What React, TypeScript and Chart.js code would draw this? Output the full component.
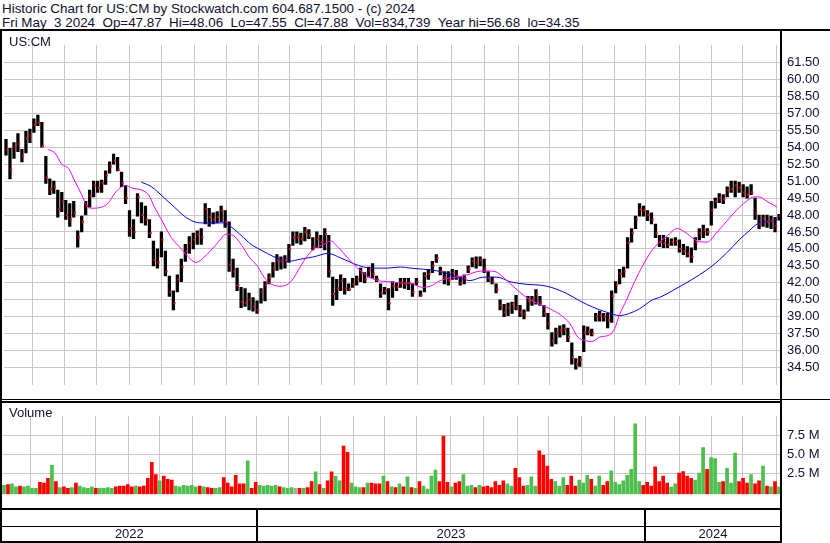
import React, { useEffect, useRef, useState } from "react";
import { Chart, registerables } from "chart.js";
Chart.register(...registerables);

// ---- header text ----
const TITLE = "Historic Chart for US:CM by Stockwatch.com 604.687.1500 - (c) 2024";
const QUOTE = "Fri May  3 2024  Op=47.87  Hi=48.06  Lo=47.55  Cl=47.88  Vol=834,739  Year hi=56.68  lo=34.35";
const SYMBOL = "US:CM";

// ---- price bars (one bar ≈ two trading days), May 2022 .. May 2024 ----
const HI = [
  54.7, 53.9, 54.4, 55.2, 53.8, 55.4, 55.6, 56.5, 56.85, 56.2,
  53.2, 51.2, 51.0, 50.2, 50.0, 49.3, 49.0, 49.2, 46.6, 47.9,
  49.2, 50.2, 51.0, 51.0, 51.1, 51.9, 52.7, 53.4, 53.1, 51.8,
  50.6, 48.4, 47.6, 49.9, 49.1, 48.8, 47.6, 45.7, 45.0, 46.5,
  44.8, 42.6, 41.3, 42.7, 44.1, 45.4, 46.1, 46.4, 46.6, 46.8,
  49.0, 48.6, 48.2, 48.3, 48.8, 48.4, 47.4, 44.1, 43.3, 41.6,
  41.5, 41.1, 40.7, 40.4, 41.5, 42.1, 42.8, 43.8, 44.5, 44.3,
  44.4, 45.4, 46.5, 46.5, 46.4, 46.9, 46.7, 46.0, 46.5, 46.2,
  46.8, 46.2, 42.5, 42.3, 42.7, 42.4, 41.9, 42.4, 42.6, 43.3,
  42.9, 43.4, 43.7, 42.6, 41.9, 41.6, 41.5, 42.1, 42.0, 42.4,
  42.4, 42.4, 41.9, 42.4, 41.3, 42.9, 43.2, 43.9, 44.5, 43.4,
  43.0, 43.0, 43.2, 43.1, 42.5, 42.7, 43.5, 44.2, 44.3, 44.3,
  44.1, 43.0, 42.5, 41.9, 40.5, 40.1, 40.2, 40.3, 40.9, 40.0,
  39.6, 40.8, 40.8, 41.4, 40.8, 40.0, 39.3, 37.6, 38.0, 38.2,
  38.3, 38.0, 36.7, 35.3, 35.5, 38.2, 38.1, 37.9, 39.3, 39.5,
  39.3, 39.3, 41.3, 42.1, 43.2, 43.4, 46.0, 46.8, 47.9, 49.0,
  48.8, 48.4, 48.2, 47.2, 46.2, 46.2, 46.0, 45.9, 46.0, 45.8,
  45.4, 45.2, 45.1, 46.0, 46.8, 47.1, 46.8, 49.2, 49.5, 49.9,
  49.8, 50.5, 51.0, 51.0, 50.9, 50.7, 50.5, 50.7, 49.5, 48.0,
  48.0, 48.0, 47.9, 47.8, 48.06,
];
const LO = [
  53.3, 51.2, 53.0, 53.6, 52.7, 53.5, 54.4, 55.3, 55.9, 54.0,
  50.8, 49.8, 49.9, 47.8, 48.3, 47.6, 47.0, 47.8, 45.15, 46.5,
  48.0, 48.7, 49.6, 50.0, 50.0, 50.7, 51.7, 52.5, 51.9, 50.5,
  49.0, 46.1, 45.9, 47.9, 47.3, 47.1, 46.0, 43.5, 43.3, 44.3,
  42.6, 40.8, 39.6, 41.2, 42.1, 43.9, 44.6, 45.0, 45.4, 45.4,
  47.2, 47.0, 47.2, 47.3, 47.4, 46.9, 43.0, 42.5, 41.3, 39.8,
  39.9, 39.6, 39.5, 39.3, 40.2, 40.4, 41.9, 42.5, 43.1, 43.2,
  43.3, 43.8, 45.3, 45.5, 45.4, 45.7, 45.9, 44.9, 45.1, 45.1,
  44.9, 42.5, 40.0, 40.5, 41.3, 41.0, 41.3, 41.6, 41.8, 42.1,
  42.0, 42.5, 42.4, 42.1, 40.7, 41.0, 39.6, 40.7, 41.3, 41.6,
  41.5, 41.4, 40.8, 41.8, 40.8, 41.2, 42.3, 42.9, 43.8, 42.7,
  41.9, 41.8, 42.3, 42.3, 41.8, 41.9, 42.9, 43.4, 43.3, 43.5,
  42.9, 42.1, 41.9, 41.1, 39.6, 39.0, 39.1, 39.3, 39.6, 39.0,
  38.8, 39.5, 40.0, 40.1, 40.0, 39.0, 37.9, 36.4, 36.6, 37.2,
  37.4, 36.8, 34.8, 34.35, 34.6, 35.9, 37.4, 37.3, 38.6, 38.6,
  38.6, 38.0, 38.5, 41.1, 41.9, 42.5, 43.3, 45.6, 46.8, 47.9,
  47.9, 47.5, 47.2, 46.0, 45.2, 45.1, 45.1, 45.3, 45.3, 44.7,
  44.5, 44.3, 43.8, 44.9, 45.8, 46.0, 46.2, 47.1, 48.6, 49.1,
  49.0, 49.6, 50.0, 49.6, 50.0, 49.6, 49.5, 49.8, 47.6, 46.8,
  47.0, 46.9, 46.8, 46.5, 47.55,
];
const CL = [
  53.8, 52.0, 54.0, 54.3, 53.2, 54.8, 55.0, 56.0, 56.2, 54.1,
  51.3, 50.3, 50.5, 48.5, 49.2, 48.0, 47.6, 48.2, 46.0, 47.4,
  48.8, 49.7, 50.6, 50.4, 50.8, 51.5, 52.3, 52.8, 52.0, 50.8,
  49.5, 46.8, 46.5, 49.6, 48.0, 47.6, 46.4, 44.0, 43.8, 45.8,
  43.0, 41.2, 40.2, 42.3, 43.4, 44.8, 45.5, 45.8, 46.3, 46.0,
  48.5, 47.8, 47.6, 47.8, 48.4, 47.4, 43.6, 43.0, 41.8, 40.3,
  40.2, 40.5, 39.9, 39.6, 41.2, 41.8, 42.4, 43.3, 44.0, 43.9,
  44.0, 45.0, 46.0, 46.0, 45.9, 46.5, 46.2, 45.2, 45.9, 45.6,
  46.3, 43.0, 41.0, 41.5, 42.2, 41.5, 41.4, 41.9, 42.3, 42.9,
  42.3, 43.1, 42.8, 42.3, 41.1, 41.3, 40.2, 41.7, 41.6, 42.0,
  41.9, 42.0, 41.2, 42.1, 40.9, 42.6, 42.8, 43.5, 44.2, 43.0,
  42.5, 42.2, 42.9, 42.6, 42.0, 42.4, 43.2, 43.9, 43.8, 44.0,
  43.2, 42.4, 42.1, 41.4, 40.0, 39.4, 39.8, 40.1, 39.8, 39.4,
  39.2, 40.4, 40.5, 41.0, 40.3, 39.3, 38.4, 36.9, 37.6, 37.8,
  37.9, 37.2, 35.4, 34.8, 35.2, 37.6, 37.7, 37.5, 39.0, 39.1,
  39.0, 38.7, 40.8, 41.8, 42.8, 43.0, 45.5, 46.4, 47.6, 48.5,
  48.4, 48.0, 47.6, 46.4, 45.6, 45.5, 45.4, 45.6, 45.7, 45.0,
  44.8, 44.6, 44.3, 45.6, 46.4, 46.7, 46.5, 48.4, 49.2, 49.5,
  49.4, 50.2, 50.3, 50.6, 50.4, 50.0, 49.8, 50.0, 48.2, 47.2,
  47.7, 47.4, 47.5, 47.0, 47.88,
];
// volume in millions of shares
const VOL = [
  1.0, 1.1, 1.2, 0.8, 0.9, 0.8, 0.9, 0.6, 0.6, 1.4,
  1.3, 1.9, 3.6, 1.5, 0.7, 0.8, 0.6, 0.7, 1.3, 0.9,
  0.7, 0.6, 0.8, 0.6, 0.6, 0.6, 0.7, 0.6, 0.8, 0.9,
  0.9, 1.1, 0.8, 0.9, 0.8, 0.9, 1.9, 4.0, 2.4, 1.6,
  2.2, 1.8, 1.7, 0.9, 0.8, 1.0, 0.9, 1.0, 0.8, 0.9,
  0.8, 0.7, 0.6, 0.6, 0.7, 2.0, 1.3, 0.8, 2.3, 1.2,
  1.2, 4.2, 0.6, 1.4, 1.0, 0.9, 1.0, 0.9, 1.0, 0.8,
  0.7, 0.6, 0.7, 0.6, 0.6, 0.6, 0.7, 1.5, 2.75, 1.1,
  0.6, 1.6, 2.75, 2.2, 1.6, 6.1, 5.3, 1.3, 0.8, 0.7,
  0.7, 1.3, 1.3, 1.2, 1.2, 2.2, 1.5, 0.8, 0.7, 1.2,
  0.8, 2.1, 0.7, 0.6, 1.5, 0.9, 0.5, 2.2, 3.0, 1.5,
  7.4, 1.4, 0.8, 1.3, 1.5, 2.4, 0.9, 1.0, 0.7, 1.0,
  0.8, 0.9, 0.7, 1.5, 1.0, 1.6, 1.2, 0.9, 3.2, 2.0,
  0.9, 1.0, 2.1, 0.9, 5.5, 4.9, 3.5, 1.8, 1.5, 0.9,
  2.0, 1.0, 2.2, 0.9, 1.7, 1.3, 2.3, 1.8, 0.9, 2.2,
  1.0, 1.5, 2.9, 1.4, 1.1, 1.6, 2.3, 3.1, 9.0, 1.5,
  1.0, 1.4, 0.9, 3.4, 1.5, 2.2, 1.3, 0.8, 1.2, 2.6,
  2.8, 2.2, 1.9, 1.7, 2.6, 5.9, 3.1, 4.6, 4.5, 1.4,
  1.5, 3.2, 1.3, 5.2, 1.5, 1.9, 1.3, 2.4, 1.2, 1.6,
  3.5, 0.9, 0.8, 1.5, 0.8,
];

// ---- moving averages (bar index, price) ----
const MA_FAST_X = [
  10.5, 12.25, 14, 15.75, 17.25, 19, 20.25, 21.5, 24, 25.75, 27.25, 29, 30.25, 31.5, 34, 35.75,
  37.25, 39, 41.5, 44, 46, 47.75, 49.5, 51.5, 53.5, 55.25, 57, 59, 61, 63.25, 64.75, 66.5, 69,
  71.5, 74, 75.25, 77.25, 79.75, 81.5, 83.5, 85.75, 88.25, 90.75, 93.25, 95.75, 99, 102.25,
  104.5, 106.5, 109, 111, 113.25, 115.75, 118.25, 120.25, 122.75, 124.75, 127.25, 129.5, 131.5,
  134, 136.5, 139, 141.5, 143.5, 145.25, 147, 149, 151.5, 152.75, 154, 155.75, 157.75, 159.75,
  162, 164, 165.75, 168.5, 170.75, 173.5, 176, 178.25, 180.75, 183.25, 185.75, 187.75, 189, 191, 193.5,
];
const MA_FAST = [
  53.8, 53.5, 52.5, 52.1, 51.0, 49.8, 48.8, 48.6, 48.7, 49.1, 49.9, 50.5, 50.6, 50.4, 50.2, 49.8,
  48.7, 47.6, 46.0, 45.0, 44.2, 43.8, 44.2, 44.9, 45.7, 46.3, 46.2, 45.4, 44.3, 43.4, 42.5, 41.9, 41.7,
  42.1, 43.5, 44.2, 45.0, 45.4, 45.7, 45.1, 44.2, 43.3, 42.6, 42.2, 42.1, 42.0, 41.9,
  41.6, 41.7, 42.2, 42.4, 42.5, 42.7, 43.0, 43.05, 43.0, 42.5, 41.7, 41.0, 40.5,
  40.1, 39.7, 39.2, 38.4, 37.2, 36.9, 36.8, 37.2, 37.4, 37.95, 39.2, 40.5, 42.1, 43.5,
  44.8, 45.6, 46.1, 46.8, 46.4, 45.7, 45.6, 46.4, 47.4, 48.4, 49.2, 49.6, 49.6, 49.2, 48.7,
];
const MA_SLOW_X = [
  34, 36.5, 39.75, 42.25, 44.75, 47.25, 49.75, 52.25, 54.75, 56.5, 59, 61.5, 64, 67.25, 70.75,
  74, 77.25, 80.75, 84, 87.25, 89.75, 92.25, 95.75, 99, 101.5, 104.75, 109, 113.25, 116.5,
  119.75, 123.25, 126.5, 129.75, 135.75, 140.75, 144, 147.25, 150.75, 154, 156.5, 159, 162.25,
  164, 167.25, 170.75, 174, 177.25, 180.75, 184, 186.5, 188.5, 190.75, 193.5,
];
const MA_SLOW = [
  50.9, 50.5, 49.5, 48.7, 47.9, 47.4, 47.3, 47.3, 47.3, 46.95, 46.2, 45.4, 44.9, 44.3, 43.9,
  44.1, 44.3, 44.6, 44.2, 43.7, 43.4, 43.3, 43.3, 43.4, 43.3, 43.2, 43.0, 42.5, 42.2,
  42.5, 42.5, 42.1, 41.9, 41.7, 41.05, 40.4, 39.85, 39.4, 39.1, 39.3, 39.7, 40.5,
  40.7, 41.3, 42.0, 42.7, 43.5, 44.6, 45.8, 46.6, 47.2, 47.4, 47.6,
];

// ---- axes ----
const PRICE_TICKS = [34.5, 36, 37.5, 39, 40.5, 42, 43.5, 45, 46.5, 48, 49.5, 51, 52.5, 54, 55.5, 57, 58.5, 60, 61.5];
const VOL_TICKS = [2.5, 5, 7.5];
// month boundaries (in bar-index units), Jun 2022 .. May 2024
const MONTH_TICKS = [
  6.68, 14.69, 22.78, 31.11, 39.05, 47.23, 55.39, 63.25, 71.17, 79.28, 87.43, 95.37,
  103.3, 111.8, 120.15, 128.6, 136.4, 144.6, 152.8, 160.5, 169.0, 177.1, 184.9, 193.3,
];
const YEARS = ["2022", "2023", "2024"];
const YEAR_STARTS = [63.25, 160.5];

const PRICE_MIN = 32.94;
const PRICE_MAX = 63.06;
const VOL_MIN = -0.15;
const VOL_MAX = 10.05;

const FONT = "'Liberation Sans', Arial, Helvetica, sans-serif";
const GRID = "#c8c8c8";
const LABEL = "#101030";
const UP = "#4cbf4c";
const DOWN = "#ff0000";
const FLAT = "#a8a8a8";

const W = 830;
const PLOT_R = 781;
const AXIS_W = W - PLOT_R;

function xAxis(n: number) {
  return {
    type: "linear" as const,
    min: -0.5,
    max: n - 0.5,
    offset: false,
    afterBuildTicks: (s: any) => {
      s.ticks = MONTH_TICKS.map((v) => ({ value: v }));
    },
    afterFit: (s: any) => {
      s.height = 0;
    },
    ticks: { display: false },
    grid: { color: GRID, lineWidth: 1, drawTicks: false, offset: false },
    border: { display: false },
  };
}

export default function App() {
  const priceRef = useRef<HTMLCanvasElement>(null);
  const volRef = useRef<HTMLCanvasElement>(null);
  const [yearPx, setYearPx] = useState<number[] | null>(null);

  useEffect(() => {
    Chart.defaults.font.family = FONT;
    Chart.defaults.font.size = 13;
    Chart.defaults.color = LABEL;
    const n = HI.length;

    const priceChart = new Chart(priceRef.current!, {
      type: "bar",
      data: {
        datasets: [
          {
            type: "line",
            label: "close",
            data: CL.map((c, i) => ({ x: i + 0.3, y: c })),
            showLine: false,
            pointStyle: "rect",
            pointRadius: 1.42,
            pointBackgroundColor: "#ff0000",
            pointBorderWidth: 0,
            order: 1,
          } as any,
          {
            type: "line",
            label: "fast MA",
            data: MA_FAST_X.map((x, i) => ({ x, y: MA_FAST[i] })),
            borderColor: "#ff00ff",
            borderWidth: 1,
            pointRadius: 0,
            cubicInterpolationMode: "monotone",
            order: 2,
          } as any,
          {
            type: "line",
            label: "slow MA",
            data: MA_SLOW_X.map((x, i) => ({ x, y: MA_SLOW[i] })),
            borderColor: "#0000ff",
            borderWidth: 1,
            pointRadius: 0,
            cubicInterpolationMode: "monotone",
            order: 3,
          } as any,
          {
            type: "bar",
            label: "range",
            data: HI.map((h, i) => ({ x: i, y: [LO[i], h] })),
            backgroundColor: "#000000",
            borderWidth: 0,
            barThickness: 2.6,
            order: 4,
          } as any,
        ],
      },
      options: {
        animation: false,
        responsive: false,
        maintainAspectRatio: false,
        events: [],
        layout: { padding: { left: 2, right: 0, top: 0, bottom: 0 } },
        plugins: { legend: { display: false }, tooltip: { enabled: false } },
        scales: {
          x: xAxis(n) as any,
          y: {
            type: "linear",
            position: "right",
            min: PRICE_MIN,
            max: PRICE_MAX,
            afterBuildTicks: (s: any) => {
              s.ticks = PRICE_TICKS.map((v) => ({ value: v }));
            },
            afterFit: (s: any) => {
              s.width = AXIS_W;
            },
            ticks: {
              autoSkip: false,
              padding: 6,
              color: LABEL,
              font: { size: 13, family: FONT },
              callback: (v: any) => Number(v).toFixed(2),
            },
            grid: { color: GRID, lineWidth: 1, drawTicks: false },
            border: { display: false },
          },
        },
      },
    });

    const volColors = VOL.map((_, i) => {
      if (i === 0) return UP;
      const d = CL[i] - CL[i - 1];
      return d > 0 ? UP : d < 0 ? DOWN : FLAT;
    });

    const volChart = new Chart(volRef.current!, {
      type: "bar",
      data: {
        datasets: [
          {
            label: "volume",
            data: VOL.map((v, i) => ({ x: i, y: v })),
            backgroundColor: volColors,
            borderWidth: 0,
            barThickness: 3,
            base: VOL_MIN,
          } as any,
        ],
      },
      options: {
        animation: false,
        responsive: false,
        maintainAspectRatio: false,
        events: [],
        layout: { padding: { left: 2, right: 0, top: 0, bottom: 0 } },
        plugins: { legend: { display: false }, tooltip: { enabled: false } },
        scales: {
          x: xAxis(n) as any,
          y: {
            type: "linear",
            position: "right",
            min: VOL_MIN,
            max: VOL_MAX,
            afterBuildTicks: (s: any) => {
              s.ticks = VOL_TICKS.map((v) => ({ value: v }));
            },
            afterFit: (s: any) => {
              s.width = AXIS_W;
            },
            ticks: {
              autoSkip: false,
              padding: 6,
              color: LABEL,
              font: { size: 13, family: FONT },
              callback: (v: any) => Number(v).toFixed(1) + " M",
            },
            grid: { color: GRID, lineWidth: 1, drawTicks: false },
            border: { display: false },
          },
        },
      },
    });

    const xs: any = volChart.scales.x;
    setYearPx([xs.left, ...YEAR_STARTS.map((v) => xs.getPixelForValue(v)), xs.right]);

    return () => {
      priceChart.destroy();
      volChart.destroy();
    };
  }, []);

  const line = (left: number, top: number, width: number, height: number, key: string) => (
    <div key={key} style={{ position: "absolute", left, top, width, height, background: "#000" }} />
  );

  const textStyle: React.CSSProperties = {
    position: "absolute",
    fontFamily: FONT,
    fontSize: 13,
    lineHeight: "14px",
    color: "#000",
    whiteSpace: "pre",
  };

  return (
    <div style={{ position: "absolute", left: 0, top: 0, width: W, height: 543, background: "#fff", overflow: "hidden" }}>
      <div style={{ ...textStyle, fontSize: 13.4, left: 2, top: 2, color: "#101030" }}>
        {TITLE}
        {"\n"}
        {QUOTE}
      </div>
      <canvas ref={priceRef} width={W} height={368} style={{ position: "absolute", left: 0, top: 31, width: W, height: 368 }} />
      <canvas ref={volRef} width={W} height={106} style={{ position: "absolute", left: 0, top: 402, width: W, height: 106 }} />
      <div style={{ ...textStyle, left: 9, top: 35, color: "#101030" }}>{SYMBOL}</div>
      <div style={{ ...textStyle, left: 9, top: 406, color: "#101030" }}>Volume</div>
      {line(0, 29, W, 2, "hdr")}
      {line(0, 29, 2, 514, "left")}
      {line(PLOT_R - 1, 29, 2, 514, "right")}
      {line(0, 399, W, 1, "sep1")}
      {line(0, 401, PLOT_R, 2, "sep2")}
      {line(0, 508, PLOT_R, 2, "volbot")}
      {line(0, 526, PLOT_R, 1, "stripmid")}
      {line(0, 541, PLOT_R, 2, "bottom")}
      {yearPx &&
        YEAR_STARTS.map((_, k) => line(Math.round(yearPx[k + 1]) - 1, 508, 2, 35, "yd" + k))}
      {yearPx &&
        YEARS.map((y, k) => (
          <div
            key={y}
            style={{
              ...textStyle,
              left: yearPx[k],
              width: yearPx[k + 1] - yearPx[k],
              top: 527,
              textAlign: "center",
              color: "#101030",
            }}
          >
            {y}
          </div>
        ))}
    </div>
  );
}
